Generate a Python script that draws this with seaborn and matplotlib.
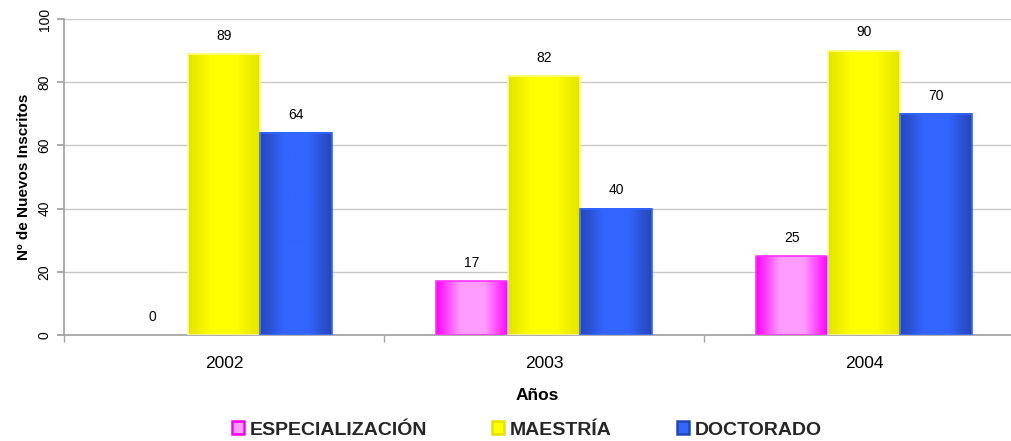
import numpy as np
import pandas as pd
import matplotlib
matplotlib.use("Agg")
import matplotlib.pyplot as plt
import seaborn as sns
from matplotlib.patches import Rectangle
from matplotlib.colors import LinearSegmentedColormap

years = ["2002", "2003", "2004"]
programs = ["ESPECIALIZACIÓN", "MAESTRÍA", "DOCTORADO"]
especializacion = [0, 17, 25]
maestria = [89, 82, 90]
doctorado = [64, 40, 70]

sns.set_theme(style="white")
plt.rcParams["font.family"] = ["Liberation Sans", "DejaVu Sans"]

df = pd.DataFrame({
    "Año": years * 3,
    "Programa": [programs[0]] * 3 + [programs[1]] * 3 + [programs[2]] * 3,
    "Valor": especializacion + maestria + doctorado,
})

# edge, center, outline
styles = {
    programs[0]: ("#FF00FF", "#FF9CFF", "#FF33FF"),
    programs[1]: ("#E3E300", "#FFFF00", "#FFFF88"),
    programs[2]: ("#2646B8", "#3366FF", "#3366FF"),
}
palette = {p: styles[p][1] for p in programs}

W, H = 1011, 441
fig = plt.figure(figsize=(W / 100, H / 100), dpi=100)
ax = fig.add_axes([64 / W, (H - 335) / H, (W - 64) / W, 316 / H])

sns.barplot(data=df, x="Año", y="Valor", hue="Programa", hue_order=programs,
            order=years, palette=palette, width=0.675, gap=0, legend=False,
            ax=ax, saturation=1)

XLIM = (-0.5, -0.5 + (W - 64) / 320)

# gradient fills on bars
bars = [p for p in ax.patches]
idx = 0
for p in programs:
    edge, center, outline = styles[p]
    cmap = LinearSegmentedColormap.from_list(p, [edge, center, center, edge])
    grad = np.linspace(0, 1, 256).reshape(1, -1)
    for j in range(len(years)):
        bar = bars[idx]
        idx += 1
        x0, y0 = bar.get_x(), bar.get_y()
        w, h = bar.get_width(), bar.get_height()
        bar.set_edgecolor(outline)
        bar.set_linewidth(1.2)
        if h > 0:
            bar.set_facecolor("none")
            bar.set_zorder(3)
            ax.imshow(grad, cmap=cmap, extent=[x0, x0 + w, y0, y0 + h],
                      aspect="auto", zorder=2.5, interpolation="bicubic")
        else:
            bar.set_visible(False)
        ax.annotate(f"{int(h)}", (x0 + w / 2, h), xytext=(0, 8),
                    textcoords="offset points", ha="center", va="bottom",
                    fontsize=10, color="black")

ax.set_ylim(0, 100)
ax.set_yticks([0, 20, 40, 60, 80, 100])
ax.set_axisbelow(True)
ax.yaxis.grid(True, color="#C8C8C8", linewidth=1)
ax.xaxis.grid(False)
for s in ["top", "right"]:
    ax.spines[s].set_visible(False)
for s in ["left", "bottom"]:
    ax.spines[s].set_color("#A0A0A0")
    ax.spines[s].set_linewidth(1.2)

ax.tick_params(axis="y", which="major", direction="out", length=5, color="#A0A0A0",
               labelsize=10, labelrotation=90, left=True, pad=4, labelcolor="black")
for lab in ax.get_yticklabels():
    lab.set_va("center")
ax.tick_params(axis="x", which="major", direction="in", length=4, color="#A0A0A0",
               labelsize=12.5, bottom=True, pad=15, labelcolor="black")
ax.set_xticks([-0.5, 0.5, 1.5, 2.5], minor=True)
ax.tick_params(axis="x", which="minor", direction="out", length=5, color="#A0A0A0", bottom=True)

ax.set_xlabel("Años", fontsize=12.5, fontweight="bold", labelpad=12, color="black")
ax.set_ylabel("Nº de Nuevos Inscritos", fontsize=11, fontweight="bold", labelpad=5, color="black")

handles = [Rectangle((0, 0), 1, 1, facecolor=styles[p][1], edgecolor=styles[p][0], linewidth=1.8)
           for p in programs]
fig.legend(handles, programs, loc="center", bbox_to_anchor=(527 / W, (H - 430) / H),
           ncol=3, frameon=False, prop={"weight": "bold", "size": 14},
           handlelength=0.62, handleheight=0.62, handletextpad=0.3, columnspacing=3.35,
           borderpad=0, borderaxespad=0)

ax.set_autoscale_on(False)
ax.set_xlim(*XLIM)
fig.canvas.draw()
ax.set_xlim(*XLIM)

fig.savefig("out.png", dpi=100)
